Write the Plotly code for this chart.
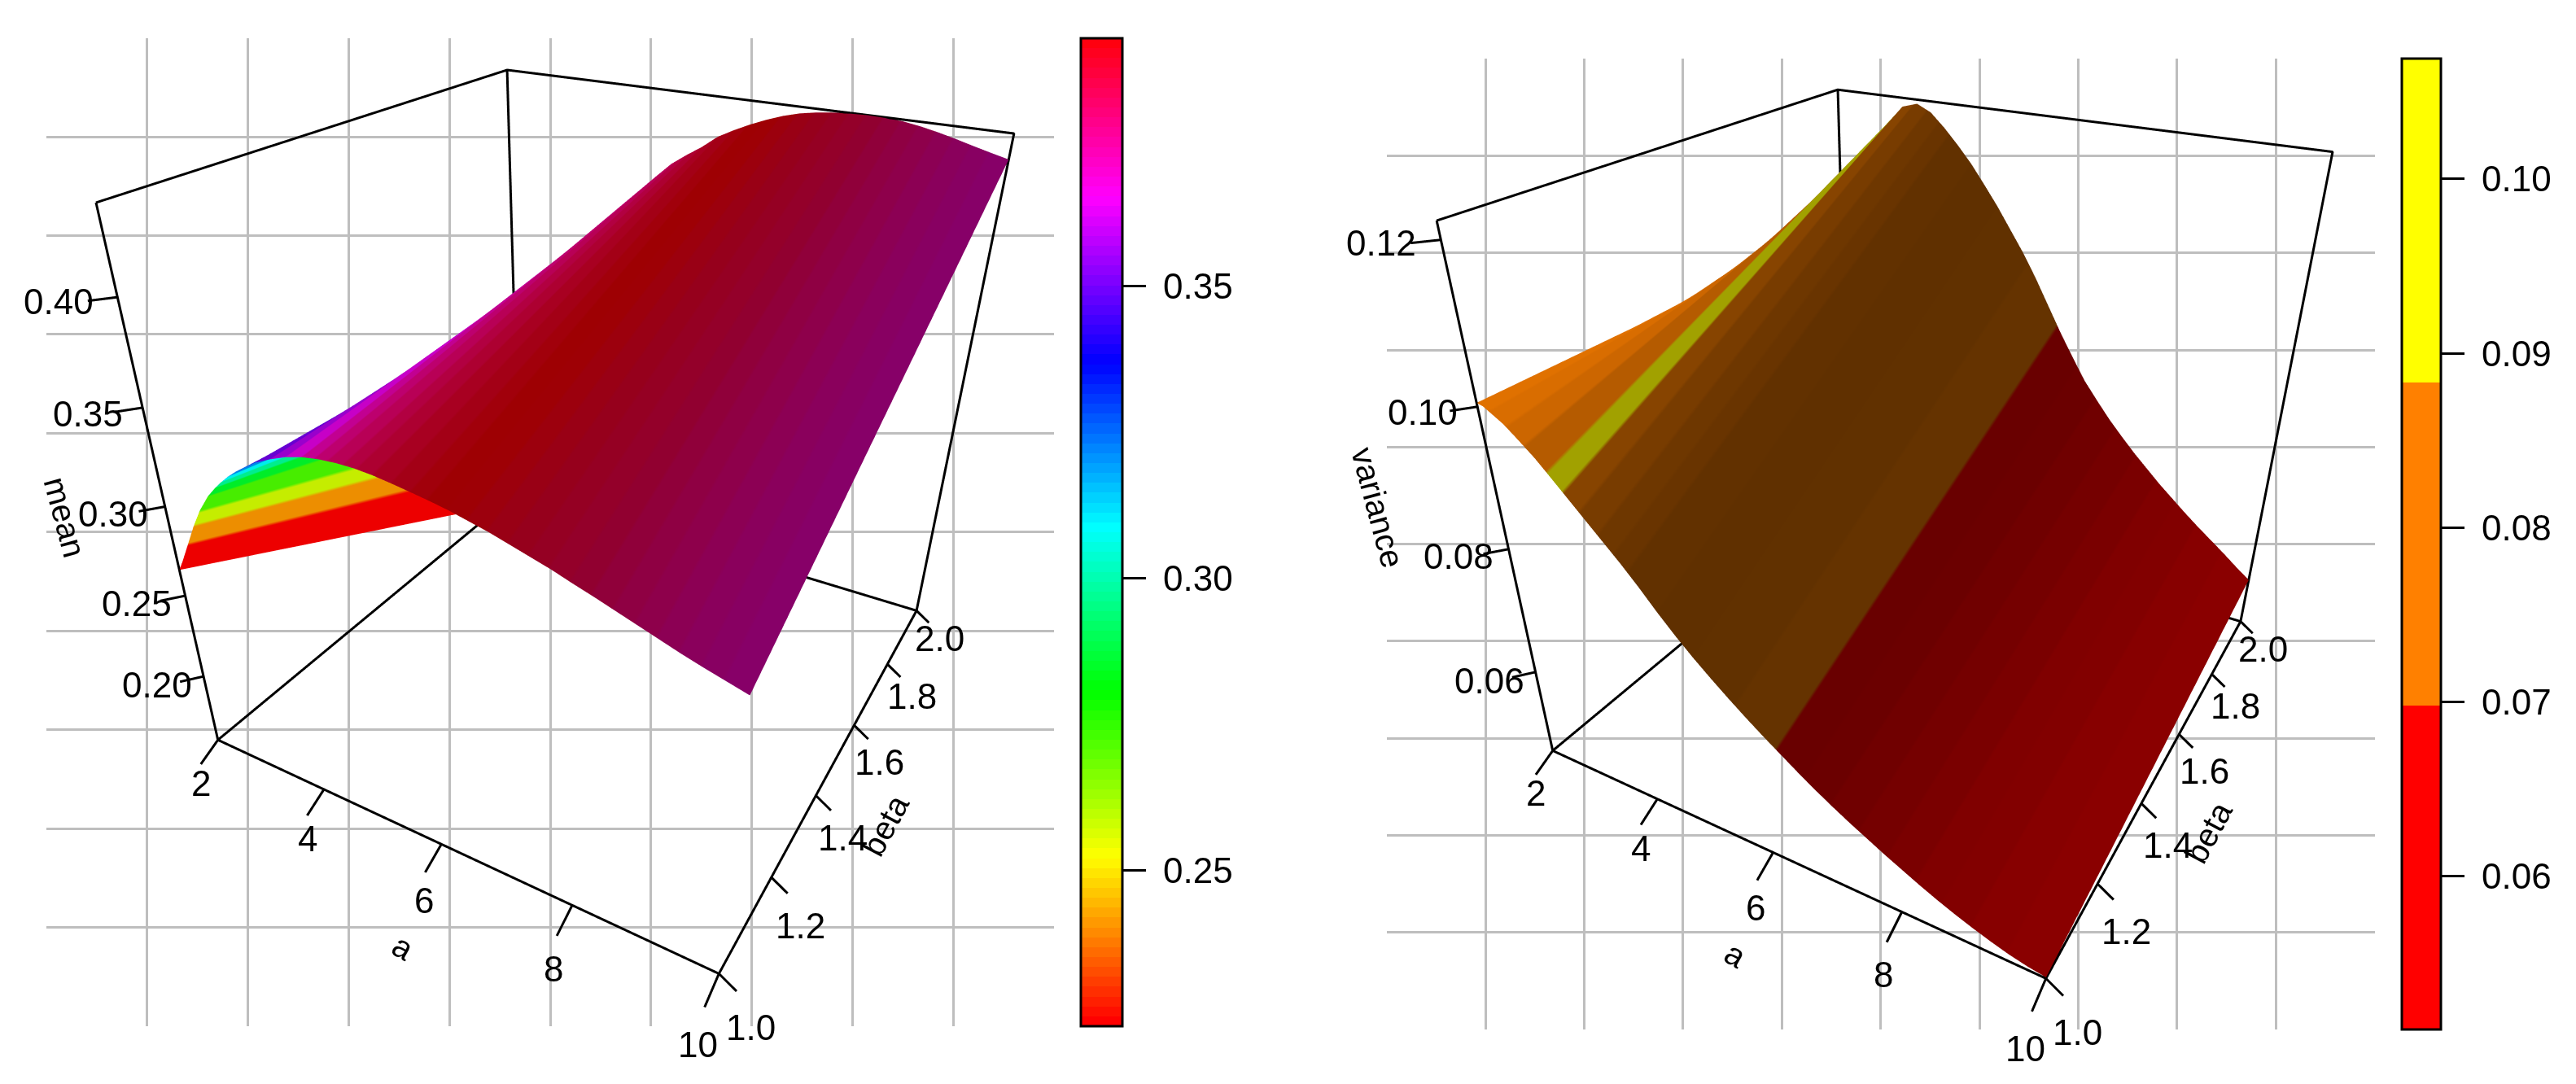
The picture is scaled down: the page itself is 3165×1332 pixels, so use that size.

import colorsys
import plotly.graph_objects as go

# ---------- values ----------
a_ticks = [2, 4, 6, 8, 10]
beta_ticks = [1.0, 1.2, 1.4, 1.6, 1.8, 2.0]
mean_ticks = [0.20, 0.25, 0.30, 0.35, 0.40]
var_ticks = [0.06, 0.08, 0.10, 0.12]
mean_bar_ticks = [0.25, 0.30, 0.35]
var_bar_ticks = [0.06, 0.07, 0.08, 0.09, 0.10]
beta_vals = [1, 2]

mean_a = [2, 2.1, 2.2, 2.3, 2.46, 2.64, 2.84, 3, 3.12, 3.25, 3.4, 3.55, 3.75, 4, 4.25, 4.5, 4.75, 5, 5.25, 5.5, 5.75, 6, 6.25, 6.5, 6.75, 7, 7.25, 7.5, 7.75, 8, 8.25, 8.5, 8.75, 9, 9.25, 9.5, 9.75, 10]
mean_beta1 = [.265, .271, .2775, .284, .2945, .305, .3145, .3205, .3245, .3285, .3325, .336, .3405, .3445, .348, .3505, .352, .3528, .353, .3525, .3515, .3503, .349, .3475, .3455, .3435, .341, .3385, .336, .333, .3302, .3272, .3242, .3212, .3182, .3155, .313, .3105]
mean_beta2 = [.148, .163, .175, .186, .205, .224, .247, .264, .276, .289, .303, .317, .334, .352, .368, .381, .392, .4, .406, .4115, .418, .4225, .4265, .43, .433, .4353, .4368, .4378, .4384, .4386, .4384, .4378, .4365, .4348, .4328, .4306, .4285, .4265]

mean_band_a = [2, 2.28, 2.46, 2.64, 2.84, 3.0, 3.12, 3.25, 3.4, 3.55, 3.75, 4.0, 4.25, 4.5, 4.7, 4.9, 5.1, 5.3, 5.5, 5.75, 6, 6.25, 6.5, 6.75, 7, 7.25, 7.5, 7.75, 8, 8.25, 8.5, 8.75, 9, 9.25, 9.5, 9.75, 10]
mean_band_col = [.2234, .2403, .2563, .2713, .2845, .2967, .3080, .3197, .3314, .3408, .3502, .3573, .3643, .3714, .3761, .3793, .3822, .3845, .3869, .3887, .3906, .3920, .3916, .3902, .3887, .3873, .3859, .3845, .3831, .3812, .3793, .3775, .3756, .3737, .3723, .3709]
mean_band_shade = [.93, .93, .93, .93, .93, .93, .93, .90, .88, .85, .82, .80, .78, .76, .74, .72, .70, .68, .66, .64, .63, .62, .62, .61, .60, .59, .585, .58, .57, .565, .56, .555, .55, .54, .535, .53]

var_a = [2, 2.1, 2.25, 2.4, 2.6, 2.84, 3, 3.23, 3.5, 3.75, 4, 4.25, 4.5, 4.75, 5, 5.25, 5.5, 5.75, 6, 6.25, 6.5, 6.75, 7, 7.25, 7.5, 7.75, 8, 8.25, 8.5, 8.75, 9, 9.25, 9.5, 9.75, 10]
var_beta1 = [.1005, .1003, .0995, .0987, .0972, .0953, .0938, .0916, .089, .0866, .0842, .0816, .0788, .0762, .0738, .0716, .0695, .0675, .0656, .0638, .062, .0603, .0587, .0572, .0558, .0544, .0531, .0518, .0506, .0495, .0485, .0476, .0468, .0462, .0458]
var_beta2 = [.100, .102, .105, .108, .1118, .116, .1185, .1208, .1215, .1205, .1185, .1162, .1137, .1108, .1078, .1045, .1012, .0975, .0935, .0895, .0858, .0822, .0793, .0765, .074, .0716, .0694, .0672, .0652, .0632, .0613, .0595, .0577, .0558, .054]

var_band_a = [2, 2.2, 2.45, 2.7, 3.0, 3.23, 3.45, 3.7, 3.9, 4.1, 4.5, 5, 5.6, 6.2, 6.6, 7, 7.4, 7.8, 8.2, 8.6, 9, 9.5, 10]
var_band_col = [.08, .08, .08, .08, .095, .08, .08, .08, .08, .08, .08, .08, .08, .06, .06, .06, .06, .06, .06, .06, .06, .06]
var_band_shade = [.88, .85, .80, .71, .63, .53, .47, .43, .41, .385, .375, .38, .395, .41, .42, .44, .46, .48, .50, .51, .53, .54]

mean_range = [.2234, .3925]
var_range = [.0512, .1069]
mean_box_z = [.157, .4386]
var_box_z = [.0456, .1221]

FONT = "Liberation Sans"
W, H = 3165, 1332
PAD = (.2, .4, .16)


def rgb(r, g, b):
    return f"rgb({round(r)},{round(g)},{round(b)})"


def rainbow(v):
    t = min(max((v - mean_range[0]) / (mean_range[1] - mean_range[0]), 0), 1)
    r, g, b = colorsys.hsv_to_rgb(t, 1, 1)
    return (r * 255, g * 255, b * 255)


def three(v):
    lo, hi = var_range
    t = (v - lo) / (hi - lo)
    return (255, 0, 0) if t < 1 / 3 else (255, 128, 0) if t < 2 / 3 else (255, 255, 0)


def stepped(edges, cols):
    lo, hi = edges[0], edges[-1]
    out = []
    for i, c in enumerate(cols):
        out += [[(edges[i] - lo) / (hi - lo), c], [(edges[i + 1] - lo) / (hi - lo), c]]
    return out


def band_scale(edges, col, shade, base):
    return stepped(edges, [rgb(*[x * s for x in base(v)]) for v, s in zip(col, shade)])


def panel(fig, n, a, z1, z2, edges, col, shade, base, zbox, zticks, ztitle, ztpos, cam, grid, bar):
    scene = "scene" if n == 1 else f"scene{n}"
    x0, x1 = 2, 10
    y0, y1 = 1, 2
    z0, z3 = zbox
    dz = z3 - z0
    fig.add_trace(go.Surface(
        x=a, y=beta_vals, z=[z1, z2], surfacecolor=[a, a], cmin=a[0], cmax=a[-1],
        colorscale=band_scale(edges, col, shade, base), showscale=False, hoverinfo="skip",
        lighting=dict(ambient=1, diffuse=0, specular=0, fresnel=0, roughness=1), scene=scene))
    # the nine box edges that the reference draws
    lx = [x0, x0, x1, x1, x1, x0, x0, x0, x0, None, x0, x0, x1]
    ly = [y0, y1, y1, y1, y0, y0, y0, y0, y1, None, y1, y1, y1]
    lz = [z3, z3, z3, z0, z0, z0, z3, z0, z0, None, z3, z0, z0]
    anns = []

    def text(t, x, y, z, size=44, angle=0):
        anns.append(dict(x=x, y=y, z=z, text=t, showarrow=False, textangle=angle,
                         font=dict(family=FONT, size=size, color="black"),
                         xanchor="center", yanchor="middle"))

    for v in a_ticks:
        lx += [None, v, v]; ly += [None, y0, y0 - .046]; lz += [None, z0, z0 - .021 * dz]
        text(str(v), v + .12 - .1 * (v - 2) / 8, y0 - .0655, z0 - (.044 + .04 * (v - 2) / 8) * dz)
    for v in beta_ticks:
        lx += [None, x1, x1 + .24]; ly += [None, v, v]; lz += [None, z0, z0 - .021 * dz]
        text(f"{v:.1f}", x1 + .47, v, z0 - (.053 + .037 * (2 - v)) * dz)
    for v in zticks:
        lx += [None, x0, x0 - .20]; ly += [None, y0, y0 - .03]; lz += [None, v, v]
        text(f"{v:.2f}", x0 - .39, y0 - .058, v + .004 * dz)
    fig.add_trace(go.Scatter3d(x=lx, y=ly, z=lz, mode="lines", line=dict(color="black", width=6),
                               hoverinfo="skip", showlegend=False, scene=scene))
    text("a", 6.21, y0 - .144, z0 - .08 * dz, 40, 30)
    text("beta", x1 + 1.03, 1.368, z0 + .027 * dz, 40, -62)
    text(ztitle, x0 + ztpos[0] * 8, y0 + ztpos[1], ztpos[2], 40, 75)

    e, c, u, asp, cx, cy, vh, half = cam
    fig.layout[scene] = dict(
        domain=dict(x=[(cx - half) / W, (cx + half) / W], y=[1 - (cy + vh / 2) / H, 1 - (cy - vh / 2) / H]),
        xaxis=dict(visible=False, range=[x0 - 8 * PAD[0], x1 + 8 * PAD[0]]),
        yaxis=dict(visible=False, range=[y0 - PAD[1], y1 + PAD[1]]),
        zaxis=dict(visible=False, range=[z0 - dz * PAD[2], z3 + dz * PAD[2]]),
        aspectmode="manual",
        aspectratio=dict(x=asp[0] * (1 + 2 * PAD[0]), y=asp[1] * (1 + 2 * PAD[1]), z=asp[2] * (1 + 2 * PAD[2])),
        camera=dict(eye=dict(x=e[0], y=e[1], z=e[2]), center=dict(x=c[0], y=c[1], z=c[2]),
                    up=dict(x=u[0], y=u[1], z=u[2]), projection=dict(type="perspective")),
        bgcolor="rgba(0,0,0,0)", annotations=anns, dragmode=False)

    gx0, gx1, gy0, gy1 = grid
    xa, ya = ("xaxis", "yaxis") if n == 1 else (f"xaxis{n}", f"yaxis{n}")
    gridvals = [i / 10 for i in range(1, 10)]
    axis = dict(range=[0, 1], tickvals=gridvals, showticklabels=False, ticks="", showgrid=True,
                gridcolor="#bebebe", gridwidth=3.4, zeroline=False, showline=False, fixedrange=True)
    fig.layout[xa] = dict(axis, domain=[gx0 / W, gx1 / W], anchor=ya.replace("axis", ""))
    fig.layout[ya] = dict(axis, domain=[1 - gy1 / H, 1 - gy0 / H], anchor=xa.replace("axis", ""))

    bx, bt, by0, by1, scale, lo, hi, vals = bar
    fig.add_trace(go.Scatter(
        x=[.5, .5], y=[-5, -5], mode="markers", xaxis=xa.replace("axis", ""), yaxis=ya.replace("axis", ""),
        hoverinfo="skip", showlegend=False,
        marker=dict(color=[lo, hi], cmin=lo, cmax=hi, colorscale=scale, showscale=True,
                    colorbar=dict(x=bx / W, xanchor="left", xpad=0, ypad=0, y=1 - by0 / H, yanchor="top",
                                  lenmode="fraction", len=(by1 - by0) / H, thickness=bt, thicknessmode="pixels",
                                  outlinecolor="black", outlinewidth=3, bordercolor="rgba(0,0,0,0)", borderwidth=0,
                                  tickmode="array", tickvals=vals, ticktext=[f"\u00a0{v:.2f}" for v in vals],
                                  ticks="outside", ticklen=28, tickwidth=3, tickcolor="black",
                                  tickfont=dict(family=FONT, size=44, color="black")))))


fig = go.Figure()
rb_edges = [mean_range[0] + (mean_range[1] - mean_range[0]) * i / 100 for i in range(101)]
rb_cols = [rgb(*[c * 255 for c in colorsys.hsv_to_rgb(i / 100, 1, 1)]) for i in range(100)]
panel(fig, 1, mean_a, mean_beta1, mean_beta2, mean_band_a, mean_band_col, mean_band_shade, rainbow,
      mean_box_z, mean_ticks, "mean", (-.127, -.088, .297),
      ((.8469, -1.5512, .9681), (.1205, -.2611, 0), (-.0046, -.0026, 1), (1, 1.0346, .9868), 716.29, 664.93, 1169.81, 716),
      (57, 1295, 46.7, 1261),
      (1328, 51, 46.7, 1261, stepped(rb_edges, rb_cols), mean_range[0], mean_range[1], mean_bar_ticks))
v_lo, v_hi = var_range
v_edges = [v_lo, v_lo + (v_hi - v_lo) / 3, v_lo + 2 * (v_hi - v_lo) / 3, v_hi]
panel(fig, 2, var_a, var_beta1, var_beta2, var_band_a, var_band_col, var_band_shade, three,
      var_box_z, var_ticks, "variance", (-.1425, -.111, .0875),
      ((.8628, -1.5837, .9852), (.1078, -.2323, 0), (-.0049, -.0027, 1), (1, 1.0388, .9936), 2351.96, 664.95, 1169.73, 813),
      (1703.8, 2917.5, 72.2, 1265),
      (2951, 48, 72.2, 1265, stepped(v_edges, ["rgb(255,0,0)", "rgb(255,128,0)", "rgb(255,255,0)"]), v_lo, v_hi, var_bar_ticks))
fig.update_layout(width=W, height=H, margin=dict(l=0, r=0, t=0, b=0), paper_bgcolor="white", plot_bgcolor="white",
                  showlegend=False, font=dict(family=FONT))
fig.write_html("out.html", config=dict(displayModeBar=False), post_script="document.body.style.margin='0';")
